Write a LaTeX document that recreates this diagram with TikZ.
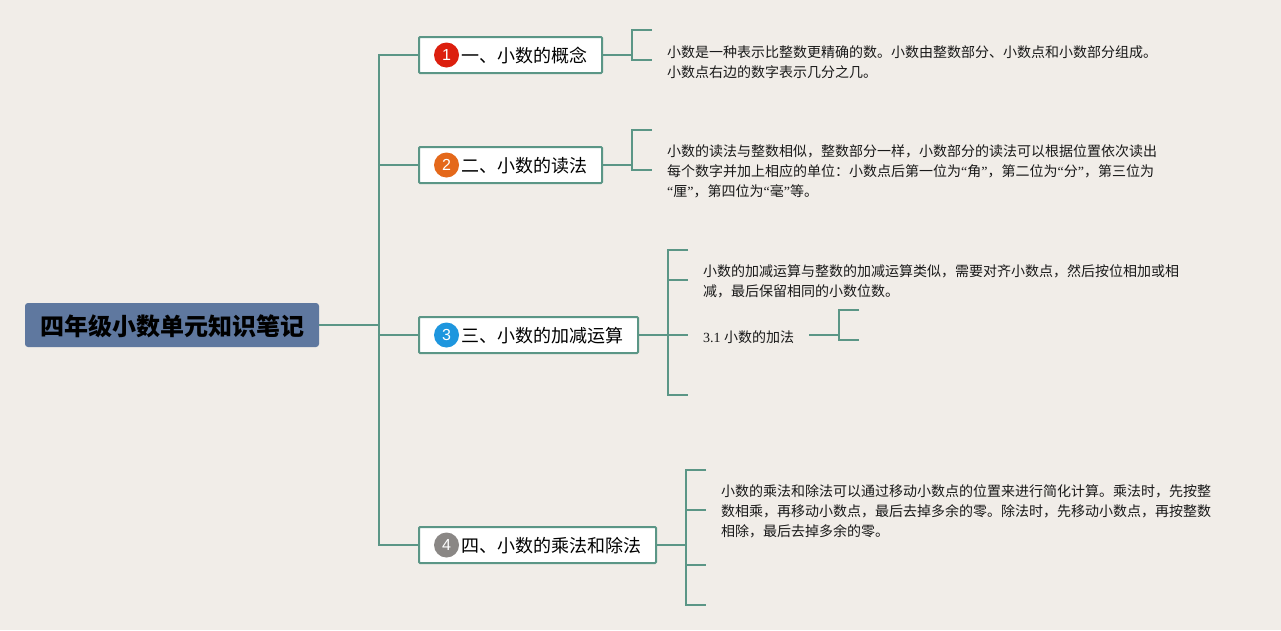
\documentclass[tikz,border=0pt]{standalone}
\usepackage{fontspec}
\setmainfont{Liberation Serif}
\newfontfamily\cjk{Noto Sans CJK SC}
\newfontfamily\lsans{Liberation Sans}
\newcommand{\qo}{{\rmfamily “}}
\newcommand{\qc}{{\rmfamily ”}}
\definecolor{bgc}{HTML}{F1EDE8}
\definecolor{linec}{HTML}{5B9686}
\definecolor{rootc}{HTML}{5F789F}
\definecolor{badgeA}{HTML}{DC1F0E}
\definecolor{badgeB}{HTML}{E4681A}
\definecolor{badgeC}{HTML}{1E96DE}
\definecolor{badgeD}{HTML}{8A8785}
\tikzset{
  conn/.style={draw=linec,line width=2pt,line cap=butt,line join=miter},
  rootbox/.style={fill=rootc,draw=none,rounded corners=3pt,minimum width=294pt,minimum height=44pt,inner sep=0pt},
  roottext/.style={inner sep=0pt,text=black,font=\cjk\bfseries\fontsize{24}{28}\selectfont},
  topicbox/.style={draw=linec,line width=2pt,fill=white,rounded corners=1pt,minimum height=36pt,inner sep=0pt},
  badge/.style={circle,minimum size=25pt,inner sep=0pt,text=white,font=\lsans\fontsize{16}{18}\selectfont},
  topictext/.style={anchor=west,inner sep=0pt,text=black,font=\cjk\fontsize{18}{22}\selectfont},
  leaf/.style={anchor=west,inner sep=0pt,align=left,text=black!90,font=\cjk\fontsize{14}{20}\selectfont},
}
\begin{document}
\begin{tikzpicture}[x=1pt,y=-1pt]
\useasboundingbox (0,0) rectangle (1281,630);
\fill[bgc] (0,0) rectangle (1281,630);
% nodes
\node[rootbox] (root) at (172,325) {};
\node[roottext] (roott) at (172.5,326) {四年级小数单元知识笔记};
\node[topicbox,minimum width=183pt] (box1) at (510.5,55) {};
\node[topicbox,minimum width=183pt] (box2) at (510.5,165) {};
\node[topicbox,minimum width=219pt] (box3) at (528.5,335) {};
\node[topicbox,minimum width=237pt] (box4) at (537.5,545) {};
\node[badge,fill=badgeA] (bd1) at (446.5,55) {1};
\node[badge,fill=badgeB] (bd2) at (446.5,165) {2};
\node[badge,fill=badgeC] (bd3) at (446.5,335) {3};
\node[badge,fill=badgeD] (bd4) at (446.5,545) {4};
\node[topictext] (t1) at (461,56) {一、小数的概念};
\node[topictext] (t2) at (461,166) {二、小数的读法};
\node[topictext] (t3) at (461,336) {三、小数的加减运算};
\node[topictext] (t4) at (461,546) {四、小数的乘法和除法};
\node[leaf] (l1) at (667,61.7) {小数是一种表示比整数更精确的数。小数由整数部分、小数点和小数部分组成。\\小数点右边的数字表示几分之几。};
\node[leaf] (l2) at (667,171.7) {小数的读法与整数相似，整数部分一样，小数部分的读法可以根据位置依次读出\\每个数字并加上相应的单位：小数点后第一位为\qo 角\qc ，第二位为\qo 分\qc ，第三位为\\\qo 厘\qc ，第四位为\qo 毫\qc 等。};
\node[leaf] (l3) at (703,281.7) {小数的加减运算与整数的加减运算类似，需要对齐小数点，然后按位相加或相\\减，最后保留相同的小数位数。};
\node[leaf] (l31) at (703,337) {{\rmfamily 3.1 }小数的加法};
\node[leaf] (l4) at (721,511.7) {小数的乘法和除法可以通过移动小数点的位置来进行简化计算。乘法时，先按整\\数相乘，再移动小数点，最后去掉多余的零。除法时，先移动小数点，再按整数\\相除，最后去掉多余的零。};
% trunk
\coordinate (tr0) at (379,325);
\coordinate (trT) at (379,55);
\coordinate (trB) at (379,545);
\draw[conn] (root.east) -- (tr0);
\draw[conn] (box1.west) -- (trT) -- (trB) -- (box4.west);
\draw[conn] (tr0 |- box2.west) -- (box2.west);
\draw[conn] (tr0 |- box3.west) -- (box3.west);
% brackets box1
\coordinate (b1j) at (632,55);
\coordinate (b1a) at (652,30);
\coordinate (b1b) at (652,60);
\draw[conn] (box1.east) -- (b1j);
\draw[conn] (b1a) -- (b1j |- b1a) -- (b1j |- b1b) -- (b1b);
% brackets box2
\coordinate (b2j) at (632,165);
\coordinate (b2a) at (652,130);
\coordinate (b2b) at (652,170);
\draw[conn] (box2.east) -- (b2j);
\draw[conn] (b2a) -- (b2j |- b2a) -- (b2j |- b2b) -- (b2b);
% brackets box3
\coordinate (b3j) at (668,335);
\coordinate (b3a) at (688,250);
\coordinate (b3b) at (688,280);
\coordinate (b3c) at (688,335);
\coordinate (b3d) at (688,395);
\draw[conn] (box3.east) -- (b3c);
\draw[conn] (b3a) -- (b3j |- b3a) -- (b3j |- b3d) -- (b3d);
\draw[conn] (b3j |- b3b) -- (b3b);
% sub bracket
\coordinate (s0) at (809,335);
\coordinate (sj) at (839,335);
\coordinate (sa) at (859,310);
\coordinate (sb) at (859,340);
\draw[conn] (s0) -- (sj);
\draw[conn] (sa) -- (sj |- sa) -- (sj |- sb) -- (sb);
% brackets box4
\coordinate (b4j) at (686,545);
\coordinate (b4a) at (706,470);
\coordinate (b4b) at (706,510);
\coordinate (b4c) at (706,565);
\coordinate (b4d) at (706,605);
\draw[conn] (box4.east) -- (b4j);
\draw[conn] (b4a) -- (b4j |- b4a) -- (b4j |- b4d) -- (b4d);
\draw[conn] (b4j |- b4b) -- (b4b);
\draw[conn] (b4j |- b4c) -- (b4c);
\end{tikzpicture}
\end{document}
